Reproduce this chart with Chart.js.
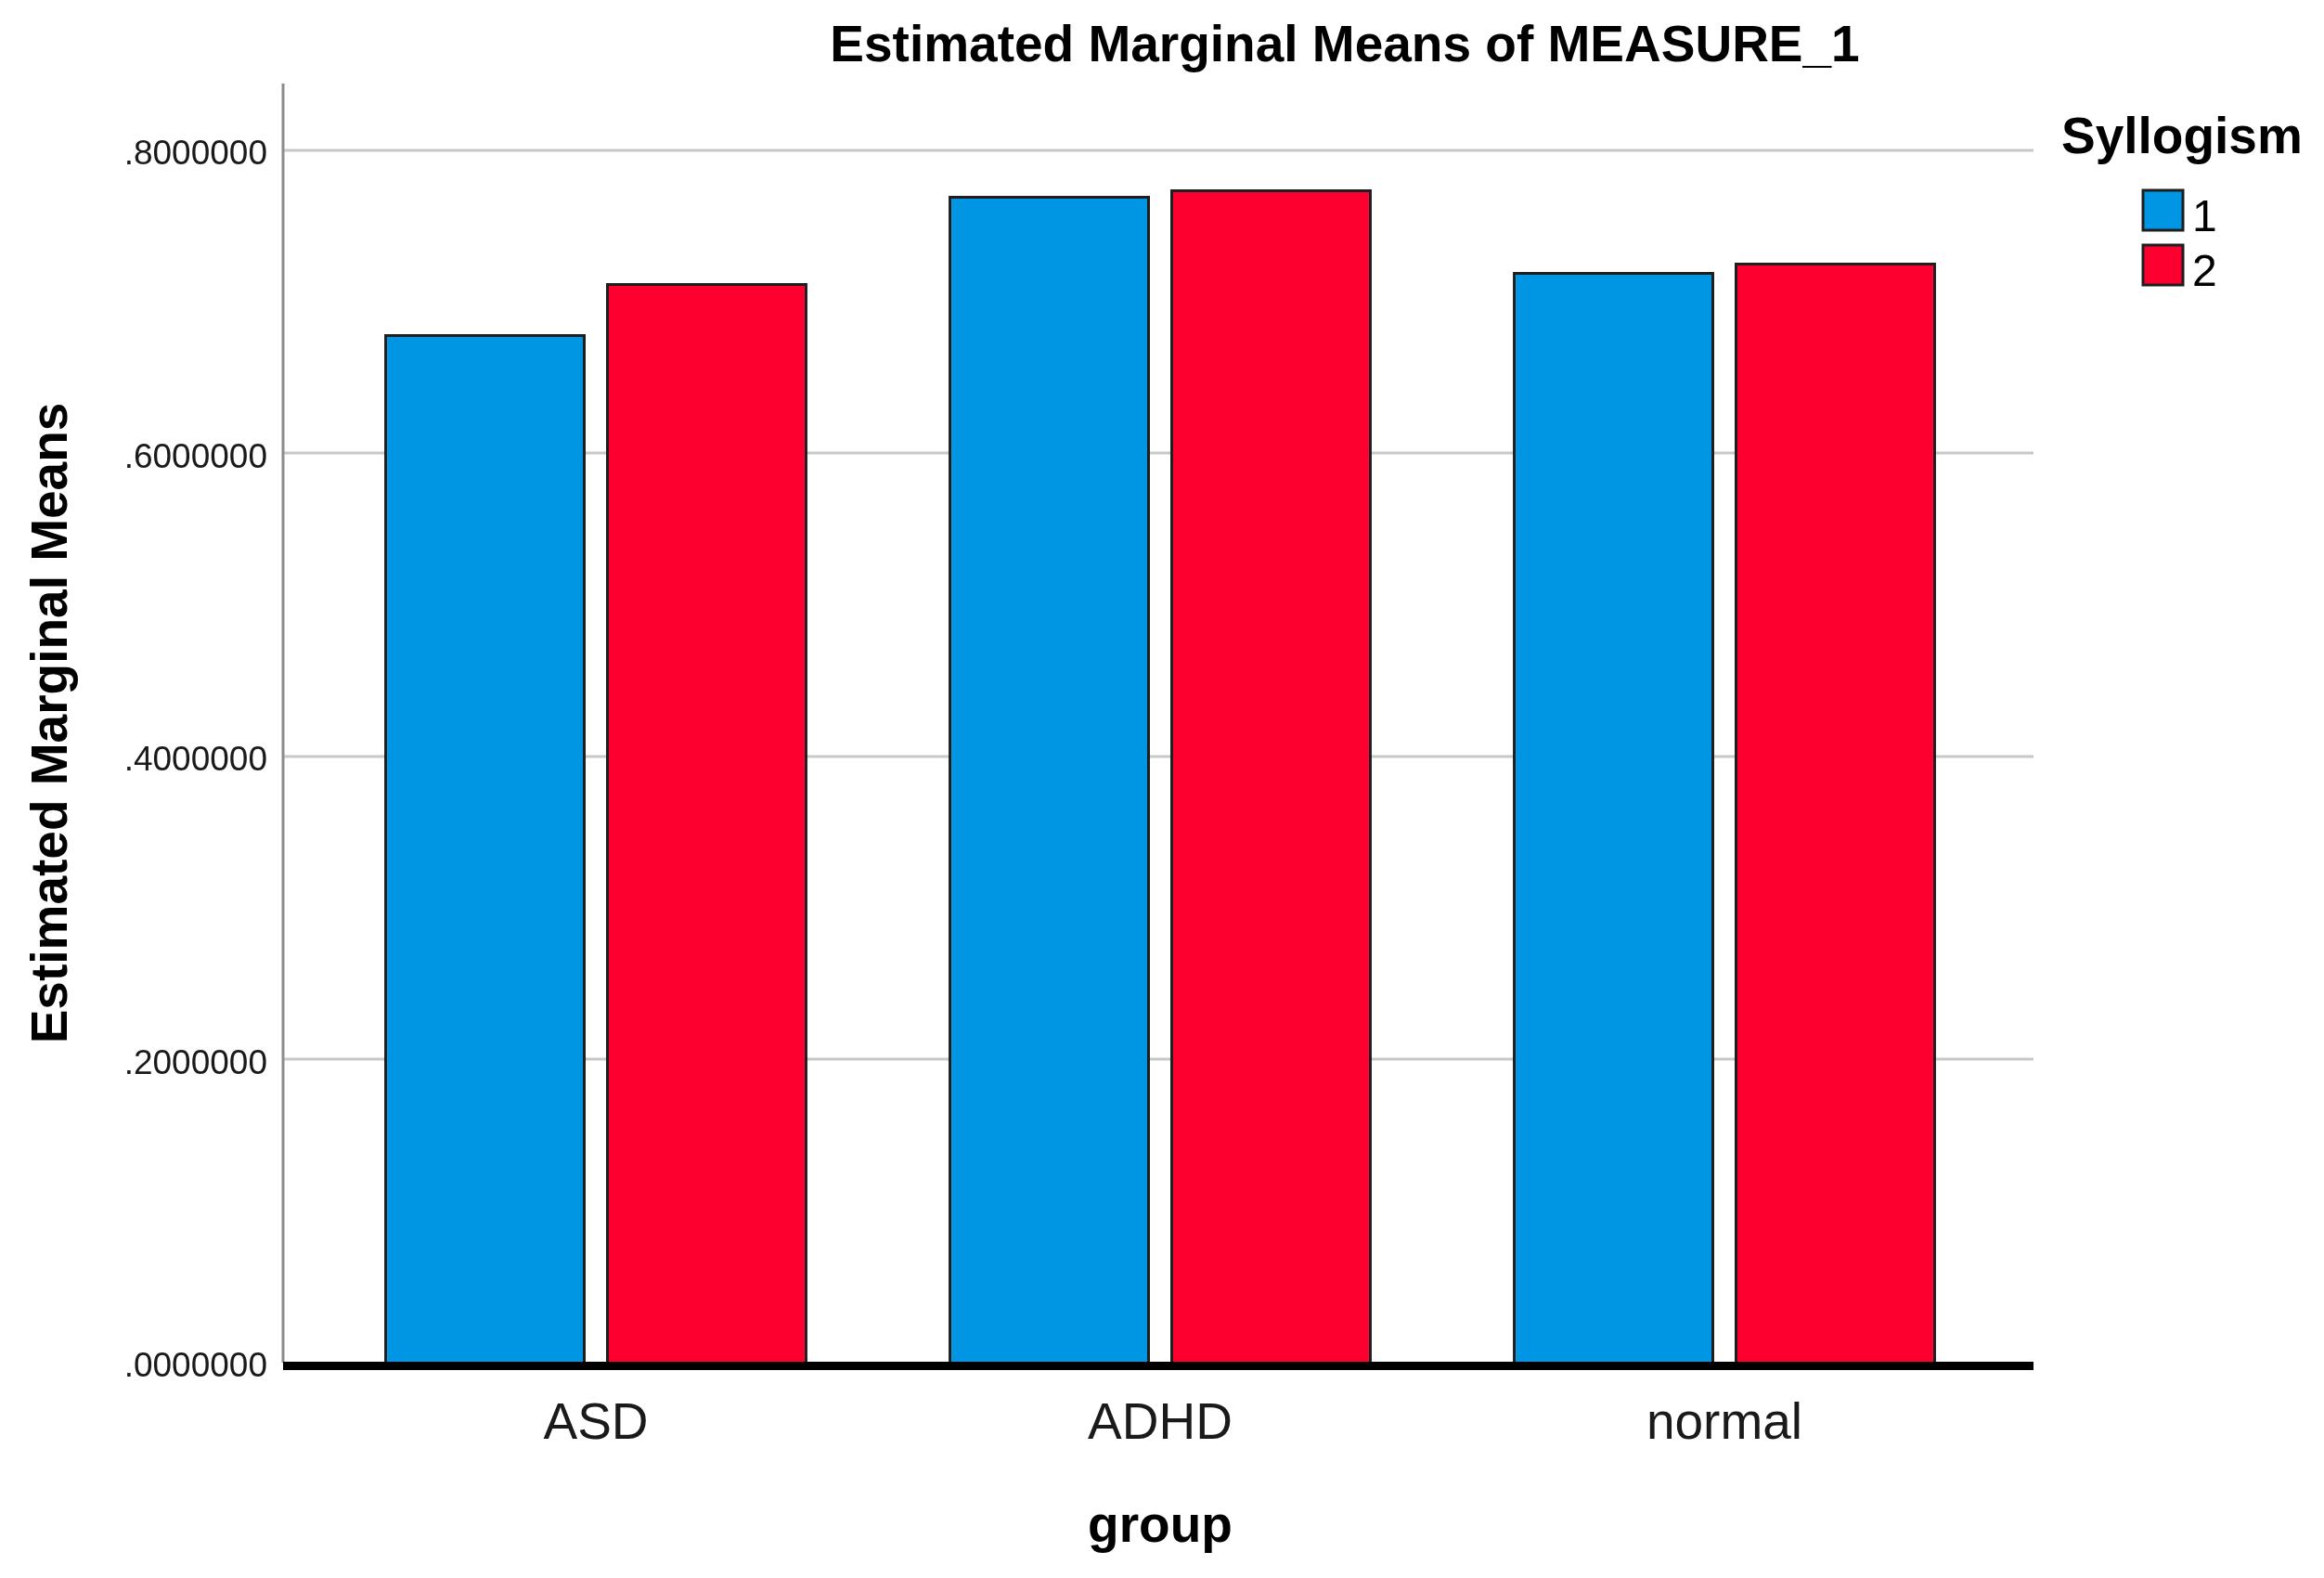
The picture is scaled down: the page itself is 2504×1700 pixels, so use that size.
<!DOCTYPE html>
<html>
<head>
<meta charset="utf-8">
<style>
  html, body { margin: 0; padding: 0; background: #fff; }
  canvas { display: block; }
</style>
<script src="https://cdn.jsdelivr.net/npm/chart.js@4.4.1/dist/chart.umd.min.js"></script>
</head>
<body>
<canvas id="emm-chart" width="2504" height="1700"></canvas>
<script>
(function () {
    'use strict';

    // Data.
    var groups = ['ASD', 'ADHD', 'normal'];
    var syllogismLabels = ['1', '2'];
    var syllogism1 = [0.6787, 0.7700, 0.7198];
    var syllogism2 = [0.7124, 0.7743, 0.7259];
    var yTicks = [0, 0.2, 0.4, 0.6, 0.8];

    var FONT = "'Liberation Sans', Arial, sans-serif";
    var COLORS = {
        blue: '#0096e4',
        red:  '#fe002f',
        edge: '#1e1e1e',
        grid: '#c8c8c8',
        axis: '#8c8c8c'
    };

    /**
     * Format tick like SPSS: .8000000
     */
    function formatTick(v) {
        return v.toFixed(7).replace(/^0/, '');
    }

    // Grid, axis line and baseline drawn through the y scale, wider than the bar area.
    var frame = {
        id: 'frame',
        beforeDatasetsDraw: function (chart) {
            var ctx = chart.ctx;
            var y = chart.scales.y;
            var a = chart.chartArea;
            var x0 = a.left - 33;
            var x1 = a.right + 29;
            ctx.save();
            ctx.strokeStyle = COLORS.grid;
            ctx.lineWidth = 3;
            yTicks.forEach(function (v) {
                if (v === 0) return;
                var py = Math.round(y.getPixelForValue(v));
                ctx.beginPath();
                ctx.moveTo(x0, py);
                ctx.lineTo(x1, py);
                ctx.stroke();
            });
            ctx.strokeStyle = COLORS.axis;
            ctx.beginPath();
            ctx.moveTo(x0, y.getPixelForValue(y.max));
            ctx.lineTo(x0, y.getPixelForValue(0));
            ctx.stroke();
            ctx.restore();
        },
        afterDatasetsDraw: function (chart) {
            var ctx = chart.ctx;
            var a = chart.chartArea;
            var py = chart.scales.y.getPixelForValue(0);
            ctx.save();
            ctx.fillStyle = '#000';
            ctx.fillRect(a.left - 33, py - 1, a.right - a.left + 62, 9);
            ctx.restore();
        },
        afterDraw: function (chart) {
            var ctx = chart.ctx;
            ctx.save();
            ctx.fillStyle = '#000';
            ctx.textBaseline = 'middle';
            ctx.textAlign = 'center';
            ctx.font = 'bold 55px ' + FONT;
            ctx.fillText('Estimated Marginal Means of MEASURE_1', 1449, 51);

            // Legend
            ctx.textAlign = 'left';
            ctx.textBaseline = 'alphabetic';
            ctx.fillText('Syllogism', 2221, 165);
            ctx.font = '48px ' + FONT;
            chart.data.datasets.forEach(function (ds, i) {
                var top = 205 + i * 59;
                ctx.fillStyle = ds.backgroundColor;
                ctx.fillRect(2309, top, 43, 43);
                ctx.strokeStyle = COLORS.edge;
                ctx.lineWidth = 3;
                ctx.strokeRect(2309, top, 43, 43);
                ctx.fillStyle = '#000';
                ctx.fillText(ds.label, 2362, top + 44);
            });
            ctx.restore();
        }
    };

    var ctx = document.getElementById('emm-chart').getContext('2d');

    new Chart(ctx, {
        type: 'bar',
        data: {
            labels: groups,
            datasets: [{
                label: syllogismLabels[0],
                data: syllogism1,
                backgroundColor: COLORS.blue,
                borderColor: COLORS.edge,
                borderWidth: 3
            }, {
                label: syllogismLabels[1],
                data: syllogism2,
                backgroundColor: COLORS.red,
                borderColor: COLORS.edge,
                borderWidth: 3
            }]
        },
        options: {
            responsive: false,
            animation: false,
            categoryPercentage: 0.786,
            barPercentage: 0.908,
            layout: { padding: { top: 90, right: 342, left: 0, bottom: 0 } },
            plugins: {
                legend: { display: false },
                title: { display: false },
                tooltip: { enabled: false }
            },
            scales: {
                x: {
                    grid: { display: false },
                    border: { display: false },
                    ticks: {
                        color: '#1a1a1a',
                        padding: 26,
                        font: { family: FONT, size: 55 }
                    },
                    title: {
                        display: true,
                        text: 'group',
                        color: '#000',
                        padding: { top: 0, bottom: 21 },
                        font: { family: FONT, size: 55, weight: 'bold' }
                    },
                    afterFit: function (scale) { scale.height = 232; }
                },
                y: {
                    min: 0,
                    max: 0.8441,
                    grid: { display: false },
                    border: { display: false },
                    afterBuildTicks: function (scale) {
                        scale.ticks = yTicks.map(function (v) { return { value: v }; });
                    },
                    ticks: {
                        color: '#1a1a1a',
                        padding: 42,
                        labelOffset: 5,
                        font: { family: FONT, size: 37 },
                        callback: function (value) { return formatTick(value); }
                    },
                    title: {
                        display: true,
                        text: 'Estimated Marginal Means',
                        color: '#000',
                        padding: { top: 24, bottom: 0 },
                        font: { family: FONT, size: 55, weight: 'bold' }
                    },
                    afterFit: function (scale) { scale.width = 338; }
                }
            }
        },
        plugins: [frame]
    });
})();
</script>
</body>
</html>
